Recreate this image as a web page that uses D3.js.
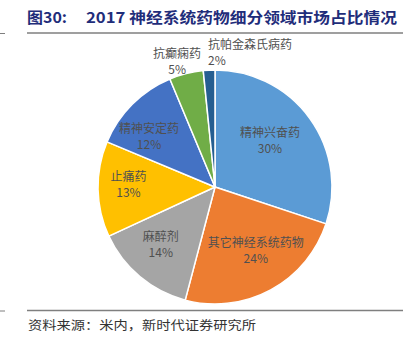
<!DOCTYPE html>
<html><head><meta charset="utf-8">
<script src="https://cdn.jsdelivr.net/npm/d3@7"></script>
<style>html,body{margin:0;padding:0;background:#fff;}</style>
</head><body>
<script>
const categories = ["精神兴奋药","其它神经系统药物","麻醉剂","止痛药","精神安定药","抗癫痫药","抗帕金森氏病药"];
const values = [30.1, 24.0, 14.0, 13.2, 12.4, 4.7, 1.6];
const percentLabels = ["30%","24%","14%","13%","12%","5%","2%"];
const colors = ["#5B9BD5","#ED7D31","#A5A5A5","#FFC000","#4472C4","#70AD47","#255E91"];
const titleNum = "图30:";
const titleText = "2017 神经系统药物细分领域市场占比情况";
const sourceText = "资料来源：米内，新时代证券研究所";

const W = 413, H = 349;
const svg = d3.select("body").append("svg").attr("width", W).attr("height", H);

// title
svg.append("text").attr("x", 27).attr("y", 23)
  .attr("font-family", "'Noto Sans CJK SC', sans-serif").attr("font-weight", "bold")
  .attr("font-size", 15).attr("fill", "#1F2D7A")
  .attr("textLength", 40).attr("lengthAdjust", "spacingAndGlyphs").text(titleNum);
svg.append("text").attr("x", 86).attr("y", 23)
  .attr("font-family", "'Noto Sans CJK SC', sans-serif").attr("font-weight", "bold")
  .attr("font-size", 15).attr("fill", "#1F2D7A")
  .attr("textLength", 311).attr("lengthAdjust", "spacingAndGlyphs").text(titleText);

// rules
[33, 310.5].forEach(y => {
  svg.append("line").attr("x1", 27).attr("x2", 403).attr("y1", y).attr("y2", y)
    .attr("stroke", "#7f7f7f").attr("stroke-width", 1.5);
  svg.append("line").attr("x1", 0).attr("x2", 5).attr("y1", y + 0.5).attr("y2", y + 0.5)
    .attr("stroke", "#7f7f7f").attr("stroke-width", 1);
});

// source
svg.append("text").attr("x", 28).attr("y", 330)
  .attr("font-family", "'Noto Sans CJK SC', sans-serif")
  .attr("font-size", 12.5).attr("fill", "#333")
  .attr("textLength", 228).attr("lengthAdjust", "spacingAndGlyphs").text(sourceText);

// pie
const cx = 215, cy = 187, r = 117;
const data = categories.map((c, i) => ({cat: c, value: values[i], label: percentLabels[i], color: colors[i]}));
const pie = d3.pie().value(d => d.value).sort(null).startAngle(0).endAngle(2 * Math.PI);
const arcs = pie(data);
const arc = d3.arc().innerRadius(0).outerRadius(r);
const g = svg.append("g").attr("transform", `translate(${cx},${cy})`);
g.selectAll("path").data(arcs).join("path")
  .attr("d", arc).attr("fill", d => d.data.color)
  .attr("stroke", "#fff").attr("stroke-width", 1.5).attr("stroke-linejoin", "round");

// label placement: [radius factor, angle nudge in degrees]
const labelPlace = [[0.61, -3.8], [0.65, -4], [0.68, 3], [0.74, 2.4], [0.71, -7.6], [1.12, -2.6], [1.18, 17.6]];
const lbl = svg.append("g").attr("font-family", "'Noto Sans CJK SC', sans-serif")
  .attr("font-size", 12).attr("fill", "#505050").attr("text-anchor", "middle");
arcs.forEach((a, i) => {
  const [f, nudge] = labelPlace[i];
  const ang = (a.startAngle + a.endAngle) / 2 + nudge * Math.PI / 180;
  const rho = r * f;
  const x = cx + rho * Math.sin(ang), y = cy - rho * Math.cos(ang);
  const t = lbl.append("text").attr("x", x).attr("y", y - 4).text(a.data.cat);
  const p = lbl.append("text").attr("x", x).attr("y", y + 12).text(a.data.label);
  if (i === 6) {
    const bb = t.node().getBBox();
    p.attr("text-anchor", "start").attr("x", bb.x);
  }
});
</script>
</body></html>
